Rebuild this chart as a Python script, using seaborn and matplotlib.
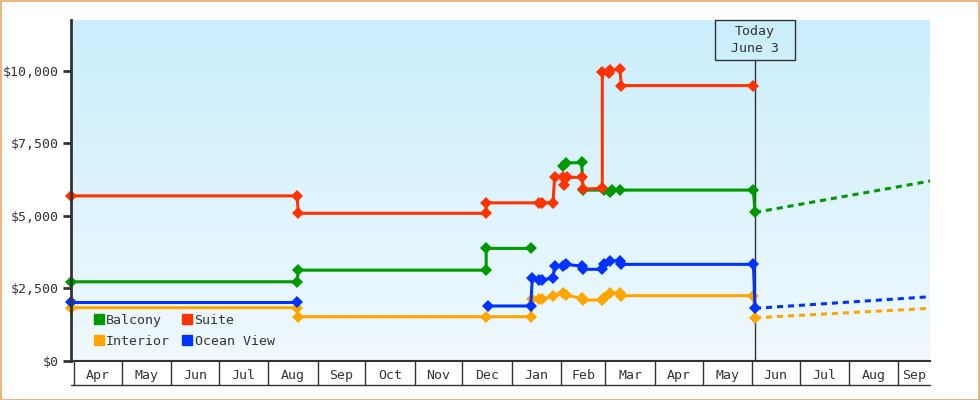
import numpy as np
import pandas as pd
import matplotlib.pyplot as plt
import matplotlib.dates as mdates
from matplotlib.colors import LinearSegmentedColormap
from matplotlib.lines import Line2D
from matplotlib.patches import Rectangle
import seaborn as sns

# --- data --------------------------------------------------------------
cabins = ['Balcony', 'Interior', 'Suite', 'Ocean View']
colors = {'Balcony': '#009900', 'Interior': '#ffa500',
          'Suite': '#ff3300', 'Ocean View': '#0033ff'}

balcony_dates_a = ['2018-03-30', '2018-08-19', '2018-08-20', '2018-12-16', '2018-12-16', '2019-01-13']
balcony_price_a = [2730, 2730, 3130, 3130, 3880, 3880]
balcony_dates_b = ['2019-02-02', '2019-02-04', '2019-02-14', '2019-02-15', '2019-02-28',
                   '2019-03-04', '2019-03-05', '2019-03-10', '2019-06-02', '2019-06-03']
balcony_price_b = [6730, 6820, 6840, 5890, 5890, 5820, 5890, 5890, 5890, 5120]

suite_dates = ['2018-03-30', '2018-08-19', '2018-08-20', '2018-12-16', '2018-12-16', '2019-01-18',
               '2019-01-20', '2019-01-27', '2019-01-28', '2019-02-02', '2019-02-03', '2019-02-05',
               '2019-02-14', '2019-02-15', '2019-02-27', '2019-02-27', '2019-03-03', '2019-03-04',
               '2019-03-10', '2019-03-11', '2019-06-02']
suite_price = [5690, 5690, 5090, 5090, 5450, 5450,
               5450, 5450, 6330, 6330, 6060, 6330,
               6330, 5920, 5950, 9970, 9910, 10020,
               10060, 9490, 9490]

ocean_dates_a = ['2018-03-30', '2018-08-19']
ocean_price_a = [2040, 2040]
ocean_dates_b = ['2018-12-17', '2019-01-13', '2019-01-14', '2019-01-18', '2019-01-20', '2019-01-27',
                 '2019-01-28', '2019-02-02', '2019-02-04', '2019-02-14', '2019-02-15', '2019-02-27',
                 '2019-02-28', '2019-03-04', '2019-03-10', '2019-03-11', '2019-06-02', '2019-06-03']
ocean_price_b = [1895, 1895, 2850, 2800, 2800, 2850,
                 3280, 3280, 3330, 3270, 3160, 3160,
                 3350, 3450, 3450, 3330, 3330, 1815]

interior_dates = ['2018-03-30', '2018-08-19', '2018-08-20', '2018-12-16', '2019-01-13', '2019-01-14',
                  '2019-01-18', '2019-01-20', '2019-01-27', '2019-02-02', '2019-02-04', '2019-02-14',
                  '2019-02-15', '2019-02-27', '2019-02-28', '2019-03-04', '2019-03-10', '2019-03-11',
                  '2019-06-02', '2019-06-03']
interior_price = [1836, 1836, 1526, 1526, 1526, 2125,
                  2125, 2125, 2240, 2330, 2270, 2160,
                  2100, 2100, 2160, 2350, 2330, 2250,
                  2250, 1490]

forecast_dates = ['2019-06-03', '2019-09-21']
forecast_balcony = [5120, 6200]
forecast_interior = [1490, 1815]
forecast_ocean = [1815, 2215]

month_labels = ['Apr', 'May', 'Jun', 'Jul', 'Aug', 'Sep', 'Oct', 'Nov', 'Dec',
                'Jan', 'Feb', 'Mar', 'Apr', 'May', 'Jun', 'Jul', 'Aug', 'Sep']
today = pd.Timestamp('2019-06-03')
x_start, x_end = pd.Timestamp('2018-03-30'), pd.Timestamp('2019-09-21')

# --- long tables --------------------------------------------------------
parts = [
    ('Balcony', 'b1', balcony_dates_a, balcony_price_a),
    ('Balcony', 'b2', balcony_dates_b, balcony_price_b),
    ('Interior', 'i1', interior_dates, interior_price),
    ('Suite', 's1', suite_dates, suite_price),
    ('Ocean View', 'o1', ocean_dates_a, ocean_price_a),
    ('Ocean View', 'o2', ocean_dates_b, ocean_price_b),
]
df = pd.concat([pd.DataFrame({'date': pd.to_datetime(d), 'price': p, 'cabin': c, 'seg': s})
                for c, s, d, p in parts], ignore_index=True)

fc = pd.concat([pd.DataFrame({'date': pd.to_datetime(forecast_dates), 'price': p, 'cabin': c})
                for c, p in [('Balcony', forecast_balcony), ('Interior', forecast_interior),
                             ('Ocean View', forecast_ocean)]], ignore_index=True)

# --- style --------------------------------------------------------------
sns.set_style('white')
plt.rcParams['font.family'] = ['DejaVu Sans Mono']
plt.rcParams['font.size'] = 9.5
dark = '#333333'

fig = plt.figure(figsize=(9.8, 4), dpi=100)
ax = fig.add_axes([71 / 980, 39 / 400, 859 / 980, 341 / 400])

# gradient background
cmap = LinearSegmentedColormap.from_list('bg', ['#f0f9fe', '#cbeefc'])
ax.imshow(np.linspace(0, 1, 256).reshape(-1, 1), cmap=cmap, origin='lower',
          extent=[0, 1, 0, 1], transform=ax.transAxes, aspect='auto', zorder=0)

# today marker
ax.axvline(today, ymin=0, ymax=0.883, color=dark, lw=1, zorder=1.5)
ax.add_patch(Rectangle((mdates.date2num(today) - 25, 0.883), 50, 0.117,
                       transform=ax.get_xaxis_transform(), facecolor='none',
                       edgecolor=dark, lw=1, zorder=3, clip_on=False))
ax.text(today, 0.9415, 'Today\nJune 3', transform=ax.get_xaxis_transform(),
        ha='center', va='center', color=dark, linespacing=1.35, zorder=3)

sns.lineplot(data=fc, x='date', y='price', hue='cabin', hue_order=cabins, palette=colors,
             units='cabin', estimator=None, sort=False, lw=2.2,
             linestyle=(0, (2, 1.6)), legend=False, ax=ax, zorder=2)
sns.lineplot(data=df, x='date', y='price', hue='cabin', hue_order=cabins, palette=colors,
             units='seg', estimator=None, sort=False, lw=2.2, marker='D', markersize=6.5,
             markeredgewidth=0, legend=False, ax=ax, zorder=2.5, clip_on=False)

ax.set_xlim(x_start, x_end)
ax.set_ylim(0, 11750)
ax.set_xlabel('')
ax.set_ylabel('')

# y axis
ax.set_yticks([0, 2500, 5000, 7500, 10000])
ax.yaxis.set_major_formatter(plt.FuncFormatter(lambda v, _: f'${v:,.0f}'))
ax.tick_params(axis='y', length=6, width=2, color=dark, labelcolor=dark, pad=3, left=True)

# month boxes
month_starts = pd.date_range('2018-04-01', '2019-09-01', freq='MS')
ax.set_xticks(month_starts)
ax.set_xticklabels([])
ax.tick_params(axis='x', which='major', length=17.5, width=1, color=dark, direction='out', bottom=True)
mids = []
for m in month_starts:
    lo = max(m, x_start)
    hi = min(m + pd.offsets.MonthBegin(1), x_end)
    mids.append(lo + (hi - lo) / 2)
ax.set_xticks(mids, month_labels, minor=True)
ax.tick_params(axis='x', which='minor', length=0, pad=6, labelcolor=dark, bottom=True)
ax.plot([0, 1], [-0.0704, -0.0704], transform=ax.transAxes, color=dark, lw=1, clip_on=False)

sns.despine(ax=ax, top=True, right=True)
ax.spines['left'].set_color(dark)
ax.spines['left'].set_linewidth(2)
ax.spines['bottom'].set_color(dark)
ax.spines['bottom'].set_linewidth(1.5)
ax.grid(False)

handles = [Line2D([], [], marker='s', linestyle='', color=colors[c], markersize=7.5) for c in cabins]
ax.legend(handles, cabins, ncol=2, loc='lower left', bbox_to_anchor=(0.011, 0.004),
          frameon=False, handletextpad=0.05, columnspacing=0.8, labelspacing=0.6,
          handlelength=1.0, labelcolor=dark)

fig.patches.append(Rectangle((0.5 / 980, 0.5 / 400), 978.5 / 980, 398.5 / 400,
                             transform=fig.transFigure, fill=False,
                             edgecolor='#e8a868', lw=1.2))

fig.savefig('out.png', dpi=100)
